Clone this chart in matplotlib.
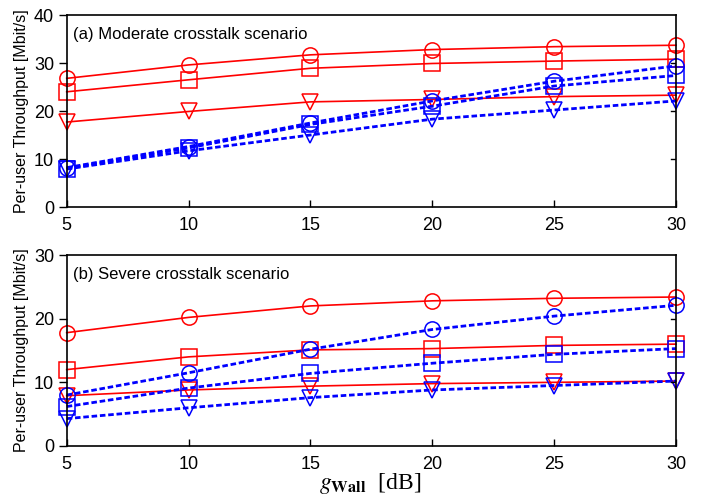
import numpy as np
import matplotlib.pyplot as plt

plt.rcParams['font.family'] = ['Liberation Sans', 'DejaVu Sans']

g_wall = [5, 10, 15, 20, 25, 30]

# (a) moderate crosstalk
mod_red_circle = [26.8, 29.6, 31.7, 32.8, 33.4, 33.7]
mod_red_square = [24.0, 26.5, 28.9, 29.9, 30.4, 30.8]
mod_red_tri = [17.7, 19.9, 21.9, 22.4, 23.0, 23.3]
mod_blue_circle = [8.2, 12.6, 17.5, 22.1, 26.2, 29.4]
mod_blue_square = [8.0, 12.3, 17.2, 21.0, 25.2, 27.4]
mod_blue_tri = [7.9, 11.7, 15.0, 18.3, 20.2, 22.1]

# (b) severe crosstalk
sev_red_circle = [17.8, 20.2, 22.0, 22.8, 23.2, 23.4]
sev_red_square = [12.0, 14.0, 15.1, 15.3, 15.8, 16.0]
sev_red_tri = [7.9, 8.8, 9.4, 9.8, 10.0, 10.2]
sev_blue_circle = [8.0, 11.5, 15.2, 18.3, 20.4, 22.1]
sev_blue_square = [6.2, 9.1, 11.4, 13.0, 14.4, 15.3]
sev_blue_tri = [4.3, 6.0, 7.6, 8.8, 9.5, 10.2]

panels = [
    ("(a) Moderate crosstalk scenario", 40,
     [mod_red_circle, mod_red_square, mod_red_tri],
     [mod_blue_circle, mod_blue_square, mod_blue_tri]),
    ("(b) Severe crosstalk scenario", 30,
     [sev_red_circle, sev_red_square, sev_red_tri],
     [sev_blue_circle, sev_blue_square, sev_blue_tri]),
]
markers = ['o', 's', 'v']

fig = plt.figure(figsize=(7.02, 4.97), dpi=100)
ax1 = fig.add_axes([66.7/702, 1 - 207/497, (676 - 66.7)/702, 192/497])
ax2 = fig.add_axes([66.7/702, 1 - 446/497, (676 - 66.7)/702, 191/497])

for ax, (title, ymax, reds, blues) in zip([ax1, ax2], panels):
    for ys, m in zip(reds, markers):
        ax.plot(g_wall, ys, color='red', lw=1.2, marker=m, ms=11,
                mfc='none', mec='red', mew=1.1, clip_on=False)
    for ys, m in zip(blues, markers):
        ax.plot(g_wall, ys, color='blue', lw=2.0, ls=(0, (2, 1)), marker=m,
                ms=11, mfc='none', mec='blue', mew=1.1, clip_on=False)
    ax.set_xlim(5, 30)
    ax.set_ylim(0, ymax)
    ax.set_xticks(g_wall)
    ax.set_yticks(np.arange(0, ymax + 1, 10))
    ax.tick_params(axis='x', direction='in', length=5, pad=7, labelsize=13, width=1)
    ax.tick_params(axis='y', direction='out', right=False, length=6, pad=3,
                   labelsize=13, width=1)
    # inward ticks on the right side
    for yt in ax.get_yticks()[1:-1]:
        ax.plot([1, 0.992], [yt, yt], transform=ax.get_yaxis_transform(),
                color='black', lw=1)
    ax.set_ylabel("Per-user Throughput [Mbit/s]", fontsize=11.5, labelpad=4)
    ax.text(0.01, 0.9, title, transform=ax.transAxes, fontsize=12,
            ha='left', va='center')
    for s in ax.spines.values():
        s.set_linewidth(1.2)

fig.text(370/702, 1 - 489/497, r"$g_{\mathbf{Wall}}$  [dB]", fontsize=17,
         family='Liberation Serif', math_fontfamily='stix', ha='center',
         va='baseline')

fig.savefig("out.png", dpi=100)
